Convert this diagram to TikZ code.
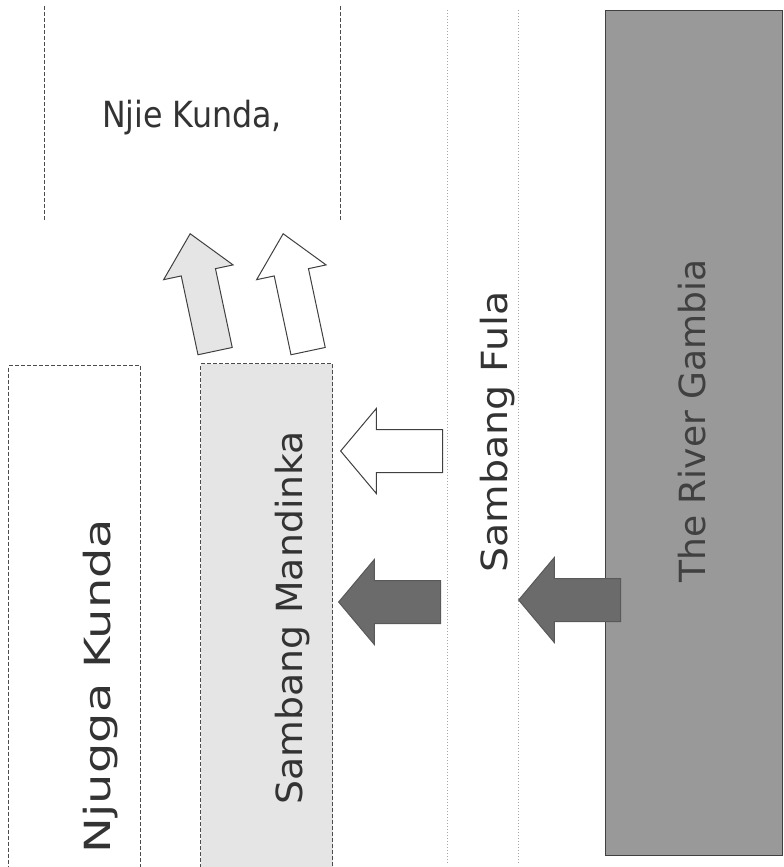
\documentclass[tikz,border=0pt]{standalone}
\usepackage{fontspec}
\setmainfont{DejaVu Sans}
\newfontfamily\narrowsans[FakeStretch=0.88]{DejaVu Sans}
\usetikzlibrary{shapes.arrows}
\begin{document}
\begin{tikzpicture}[x=1pt,y=-1pt,
  place/.style={text=black!80,font=\fontsize{36}{40}\selectfont,inner sep=0pt},
  region/.style={draw=black!70,dash pattern=on 4pt off 2pt,line width=1pt,inner sep=0pt},
  fuladots/.style={draw=black!35,dotted,line width=1pt},
  blockarrow/.style={single arrow,draw=black!75,line width=1pt,inner sep=0pt,inner ysep=21pt,
    minimum height=102pt,minimum width=0pt,single arrow head extend=21pt,
    single arrow tip angle=100,anchor=tip},
  leftarrow/.style={blockarrow,rotate=180},
  darkarrow/.style={leftarrow,fill=black!58,draw=black!65},
  uparrow/.style={blockarrow,inner ysep=17pt,minimum height=120pt,single arrow head extend=18pt,
    single arrow tip angle=84,rotate=102}]
  \clip (0,0) rectangle (784,867);
  % the places, left to right
  \node[region,fill=white,minimum width=132pt,minimum height=520pt,anchor=north west] (njugga) at (8,365) {};
  \node[region,fill=black!10,minimum width=132pt,minimum height=520pt,anchor=north west] (mandinka) at (200,363) {};
  \node[minimum width=295pt,minimum height=215pt,inner sep=0pt] (njiebox) at (192.5,113.5) {};
  \draw[region] (njiebox.north west) -- (njiebox.south west);
  \draw[region] (njiebox.north east) -- (njiebox.south east);
  \node[minimum width=70pt,minimum height=852pt,inner sep=0pt] (fulabox) at (483,436) {};
  \draw[fuladots] (fulabox.north west) -- (fulabox.south west);
  \draw[fuladots] (fulabox.north east) -- (fulabox.south east);
  \node[draw=black!75,line width=1pt,fill=black!40,minimum width=177pt,minimum height=845pt,anchor=north west] (river) at (605,10) {};
  % names
  \node[place,anchor=base,font=\narrowsans\fontsize{36}{40}\selectfont] (njietext) at (192,127) {Njie Kunda,};
  \node[place,rotate=90,anchor=base,font=\fontsize{36}{40}\selectfont\addfontfeature{FakeStretch=1.33}] (njuggatext) at (110,686) {Njugga Kunda};
  \node[place,rotate=90,anchor=base,font=\fontsize{36}{40}\selectfont\addfontfeature{FakeStretch=1.05}] (mandinkatext) at (302,618) {Sambang Mandinka};
  \node[place,rotate=90,anchor=base,font=\fontsize{36}{40}\selectfont\addfontfeature{FakeStretch=1.1}] (fulatext) at (507,432) {Sambang Fula};
  \node[place,rotate=90,anchor=base,text=black!75] (rivertext) at (705,421) {The River Gambia};
  % movements
  \node[darkarrow] (riverarrow) at (518,600) {};
  \node[darkarrow] (fulaarrow) at (338,602) {};
  \node[leftarrow,fill=white] (whitearrow) at (340,451) {};
  \node[uparrow,fill=black!10] (uparrowa) at (190,233) {};
  \node[uparrow,fill=white] (uparrowb) at (283,233) {};
\end{tikzpicture}
\end{document}
